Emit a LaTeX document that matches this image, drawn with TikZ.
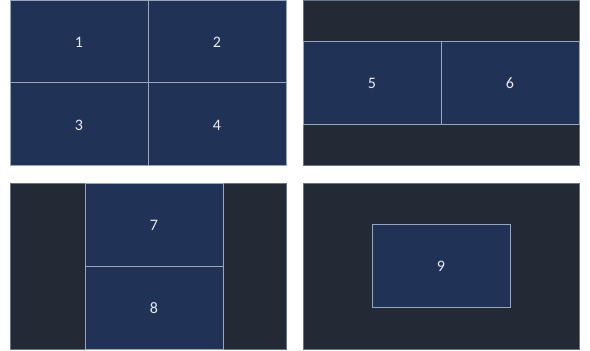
\documentclass[tikz,border=0pt]{standalone}
\usepackage{fontspec}
\setmainfont{Carlito}
\usepackage{tikz}
\usetikzlibrary{positioning}
\definecolor{panelblue}{HTML}{203357}
\definecolor{paneldark}{HTML}{232A36}
\definecolor{panelline}{HTML}{97A6C0}
\definecolor{paneltext}{HTML}{E6EAF2}
\tikzset{
  zone/.style={fill=panelblue,draw=panelline,line width=0.8pt},
  back/.style={fill=paneldark,draw=panelline!60!paneldark,line width=0.6pt},
  num/.style={text=paneltext,font=\fontsize{16}{18}\selectfont,inner sep=0pt}
}
\begin{document}
\begin{tikzpicture}[x=1pt,y=-1pt]
\useasboundingbox[fill=white] (0,0) rectangle (590,351);
% top left: four quarters
\begin{scope}
\fill[panelblue] (10,0) rectangle (286,165);
\draw[zone] (10,0) rectangle (148,82);
\draw[zone] (148,0) rectangle (286,82);
\draw[zone] (10,82) rectangle (148,165);
\draw[zone] (148,82) rectangle (286,165);
\node[num] (n1) at (79,42) {1};
\node[num] (n2) at (217,42) {2};
\node[num] (n3) at (79,125) {3};
\node[num] (n4) at (217,125) {4};
\end{scope}
% top right: two halves in a band
\begin{scope}
\draw[back] (303,0) rectangle (579,165);
\draw[zone] (303,41) rectangle (441,124);
\draw[zone] (441,41) rectangle (579,124);
\node[num] (n5) at (372,83) {5};
\node[num] (n6) at (510,83) {6};
\end{scope}
% bottom left: two halves in a column
\begin{scope}
\draw[back] (10,183) rectangle (286,349);
\draw[zone] (85,183) rectangle (223,266);
\draw[zone] (85,266) rectangle (223,349);
\node[num] (n7) at (154,225) {7};
\node[num] (n8) at (154,308) {8};
\end{scope}
% bottom right: one window in the middle
\begin{scope}
\draw[back] (303,183) rectangle (579,349);
\draw[zone] (372,224) rectangle (510,307);
\node[num] (n9) at (441,266) {9};
\end{scope}
\end{tikzpicture}
\end{document}
